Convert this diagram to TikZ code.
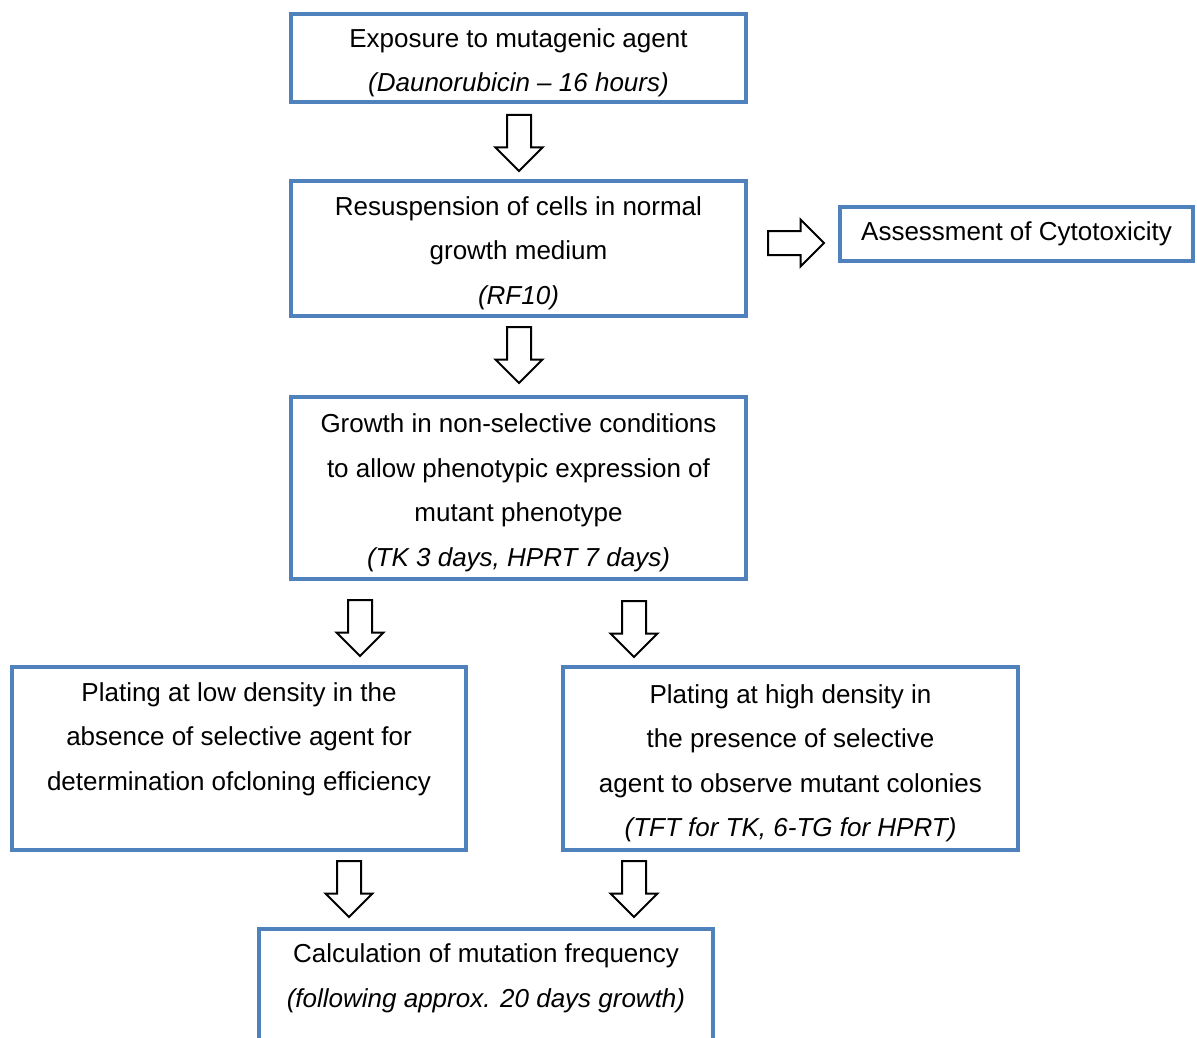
\documentclass[tikz,border=0pt]{standalone}
\usepackage{fontspec}
\setmainfont{Liberation Sans}
\usetikzlibrary{shapes.arrows, positioning}
\definecolor{MutBlue}{RGB}{79,129,189}
\newcommand{\topgap}{\rule{0pt}{28pt}}

\begin{document}
\begin{tikzpicture}[x=1pt, y=-1pt,
      stepbox/.style={rectangle, draw=MutBlue, line width=4pt, fill=white,
                      minimum width=455pt, inner sep=0pt, align=center,
                      font=\fontsize{26}{44.5}\selectfont},
      blockarr/.style={single arrow, draw=black, line width=2pt, fill=white,
                       minimum height=56pt, minimum width=45pt,
                       inner xsep=0pt, inner ysep=11pt,
                       single arrow head extend=11.5pt, single arrow tip angle=90},
      downarr/.style={blockarr, inner xsep=11pt, inner ysep=0pt,
                      shape border rotate=270}
    ]
    \path[use as bounding box, clip] (0,0) rectangle (1197,1038);

    % Row 1: exposure
    \node[stepbox, minimum height=88pt] (expo) at (518.5,58)
      {\topgap Exposure to mutagenic agent\\ \textit{(Daunorubicin -- 16 hours)}};

    % Row 2: resuspension + cytotoxicity
    \node[stepbox, minimum height=135pt] (resus) at (518.5,248.5)
      {\topgap Resuspension of cells in normal\\ growth medium\\ \textit{(RF10)}};
    \node[stepbox, minimum width=353pt, minimum height=54pt] (cyto) at (1016.5,234)
      {Assessment of Cytotoxicity};
    \node[blockarr] (toCyto) at (790,243) {};

    % Row 3: expression
    \node[stepbox, minimum height=182pt] (expr) at (518.5,488)
      {\topgap Growth in non-selective conditions\\ to allow phenotypic expression of\\
       mutant phenotype\\ \textit{(TK 3 days, HPRT 7 days)}};

    % Row 4: plating
    \node[stepbox, minimum width=454pt, minimum height=183pt] (lowd) at (239,758.5)
      {Plating at low density in the\\ absence of selective agent for\\
       determination ofcloning efficiency\\ \mbox{}};
    \node[stepbox, minimum height=183pt] (highd) at (790.5,758.5)
      {\topgap Plating at high density in\\ the presence of selective\\
       agent to observe mutant colonies\\ \textit{(TFT for TK, 6-TG for HPRT)}};

    % Row 5: calculation
    \node[stepbox, minimum width=454pt, minimum height=138pt] (calc) at (486,998)
      {Calculation of mutation frequency\\
       \textit{(following approx. 20 days growth)}\\ \mbox{}};

    % Down arrows between rows
    \foreach \n/\x/\y in {a1/519/137, a2/519/349, a3/360/622,
                          a4/634/623, a5/349/883, a6/634/883} {
      \node[downarr] (\n) at (\x,\y) {};
    }
  \end{tikzpicture}
\end{document}
